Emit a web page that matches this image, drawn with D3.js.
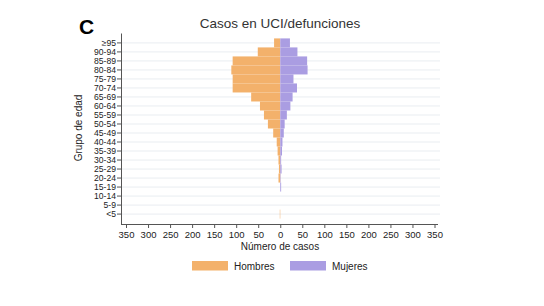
<!DOCTYPE html>
<html>
<head>
<meta charset="UTF-8">
<title>Casos en UCI/defunciones</title>
<style>
  body { margin: 0; background: #fff; }
  text { font-family: "Liberation Sans", Arial, sans-serif; }
</style>
</head>
<body>
<div id="chart"></div>
<script src="https://d3js.org/d3.v7.min.js"></script>
<script>
// age groups, top to bottom
var grupos = ["≥95", "90-94", "85-89", "80-84", "75-79", "70-74", "65-69", "60-64", "55-59", "50-54",
              "45-49", "40-44", "35-39", "30-34", "25-29", "20-24", "15-19", "10-14", "5-9", "<5"];
// cases
var hombres = [14, 51, 108, 111, 108, 108, 66, 46, 37, 28, 16, 8, 6, 4, 3, 4, 0, 0, 0, 1];
var mujeres = [22, 39, 61, 62, 30, 38, 28, 23, 15, 10, 8, 5, 4, 2, 3, 1, 2, 0, 0, 0];
var xTicks = [-350, -300, -250, -200, -150, -100, -50, 0, 50, 100, 150, 200, 250, 300, 350];

var width = 544, height = 306;
var colH = "#f3b16b", colM = "#aa9de2";

var svg = d3.select("#chart").append("svg")
    .attr("width", width)
    .attr("height", height);

var x = d3.scaleLinear().domain([-350, 350]).range([126, 434.5]);
var y = d3.scaleBand().domain(grupos).range([33, 224]).paddingInner(0).paddingOuter(0.6);

// grid lines
svg.append("g")
  .selectAll("line")
  .data(grupos)
  .enter().append("line")
    .attr("x1", 121).attr("x2", 440)
    .attr("y1", function (d) { return y(d) + y.bandwidth() / 2; })
    .attr("y2", function (d) { return y(d) + y.bandwidth() / 2; })
    .style("stroke", "#e9edf1")
    .style("stroke-width", 1);

// bars
var data = grupos.map(function (g, i) { return {g: g, h: hombres[i], m: mujeres[i]}; });

svg.append("g").selectAll("rect")
  .data(data)
  .enter().append("rect")
    .attr("x", function (d) { return x(-d.h); })
    .attr("y", function (d) { return y(d.g); })
    .attr("width", function (d) { return x(0) - x(-d.h); })
    .attr("height", y.bandwidth())
    .style("fill", colH);

svg.append("g").selectAll("rect")
  .data(data)
  .enter().append("rect")
    .attr("x", x(0))
    .attr("y", function (d) { return y(d.g); })
    .attr("width", function (d) { return x(d.m) - x(0); })
    .attr("height", y.bandwidth())
    .style("fill", colM);

// axes
var yAxis = svg.append("g")
    .attr("transform", "translate(121,0)")
    .call(d3.axisLeft(y).tickSize(4).tickSizeOuter(0));
yAxis.select(".domain").attr("stroke", "#555");
yAxis.selectAll(".tick line").attr("stroke", "#555");
yAxis.selectAll("text").style("font-size", "8.6px").style("fill", "#222").attr("x", -5);

var xAxis = svg.append("g")
    .attr("transform", "translate(0,224)")
    .call(d3.axisBottom(x).tickValues(xTicks).tickSize(4).tickFormat(function (d) { return Math.abs(d); }));
xAxis.select(".domain").remove();
xAxis.selectAll(".tick line").attr("stroke", "#555");
xAxis.selectAll("text").style("font-size", "9.5px").style("fill", "#222").attr("y", 7);
svg.append("line")
    .attr("x1", 121).attr("x2", 438)
    .attr("y1", 224.5).attr("y2", 224.5)
    .style("stroke", "#555");

// titles
svg.append("text")
    .attr("x", 280).attr("y", 28)
    .attr("text-anchor", "middle")
    .style("font-size", "13.5px")
    .style("fill", "#333")
    .text("Casos en UCI/defunciones");

svg.append("text")
    .attr("x", 79).attr("y", 33.5)
    .style("font-size", "21px")
    .style("font-weight", "bold")
    .style("fill", "#000")
    .text("C");

svg.append("text")
    .attr("transform", "translate(82,128) rotate(-90)")
    .attr("text-anchor", "middle")
    .style("font-size", "10px")
    .style("fill", "#222")
    .text("Grupo de edad");

svg.append("text")
    .attr("x", 280).attr("y", 250)
    .attr("text-anchor", "middle")
    .style("font-size", "10px")
    .style("fill", "#222")
    .text("Número de casos");

// legend
var legend = [{name: "Hombres", color: colH, x: 192}, {name: "Mujeres", color: colM, x: 290}];
var lg = svg.append("g").selectAll("g")
  .data(legend)
  .enter().append("g")
    .attr("transform", function (d) { return "translate(" + d.x + ",261)"; });
lg.append("rect")
    .attr("width", 36).attr("height", 9.5)
    .style("fill", function (d) { return d.color; });
lg.append("text")
    .attr("x", 42).attr("y", 8.5)
    .style("font-size", "10px")
    .style("fill", "#222")
    .text(function (d) { return d.name; });
</script>
</body>
</html>
